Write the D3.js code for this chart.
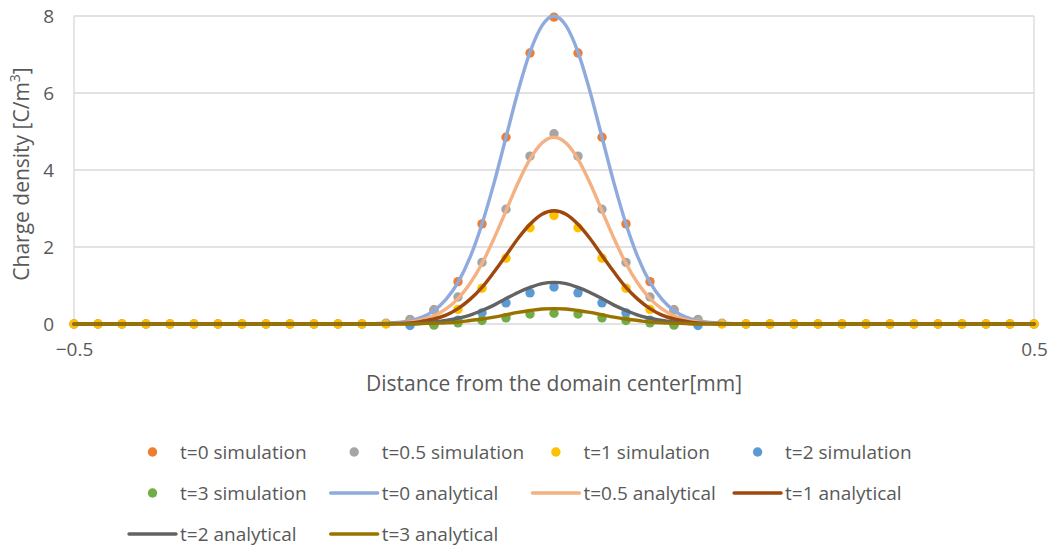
<!DOCTYPE html>
<html><head><meta charset="utf-8">
<script src="https://cdn.jsdelivr.net/npm/d3@7"></script>
<style>
body{margin:0;background:#fff}
text{font-family:"Open Sans",sans-serif;fill:#595959}
</style>
</head><body>
<svg id="chart" width="1050" height="547"></svg>
<script>
// ---------- data ----------
const simX = [-0.5,-0.475,-0.45,-0.425,-0.4,-0.375,-0.35,-0.325,-0.3,-0.275,-0.25,-0.225,-0.2,-0.175,-0.15,-0.125,-0.1,-0.075,-0.05,-0.025,0,
  0.025,0.05,0.075,0.1,0.125,0.15,0.175,0.2,0.225,0.25,0.275,0.3,0.325,0.35,0.375,0.4,0.425,0.45,0.475,0.5];
const simT0  = [0,0,0,0,0,0,0,0,0,0,0,0,0,0.01,0.09,0.37,1.10,2.60,4.85,7.04,7.97,7.04,4.85,2.60,1.10,0.37,0.09,0.01,0,0,0,0,0,0,0,0,0,0,0,0,0];
const simT05 = [0,0,0,0,0,0,0,0,0,0,0,0,0,0.02,0.12,0.36,0.70,1.60,2.98,4.36,4.94,4.36,2.98,1.60,0.70,0.36,0.12,0.02,0,0,0,0,0,0,0,0,0,0,0,0,0];
const simT1  = [0,0,0,0,0,0,0,0,0,0,0,0,0,0.0,0.03,0.12,0.38,0.93,1.71,2.50,2.82,2.50,1.71,0.93,0.38,0.12,0.03,0.0,0,0,0,0,0,0,0,0,0,0,0,0,0];
const simT2  = [null,null,null,null,null,null,null,null,null,null,null,null,null,null,-0.04,0.0,0.10,0.29,0.55,0.81,0.96,0.81,0.55,0.29,0.10,0.0,-0.04,null,null,null,null,null,null,null,null,null,null,null,null,null,null];
const simT3  = [null,null,null,null,null,null,null,null,null,null,null,null,null,null,null,-0.03,0.03,0.09,0.16,0.26,0.28,0.26,0.16,0.09,0.03,-0.03,null,null,null,null,null,null,null,null,null,null,null,null,null,null,null];

const anaX = [-0.5,-0.3,-0.2,-0.1875,-0.175,-0.1625,-0.15,-0.1375,-0.125,-0.1125,-0.1,-0.0875,-0.075,-0.0625,-0.05,-0.0375,-0.025,-0.0125,0,
  0.0125,0.025,0.0375,0.05,0.0625,0.075,0.0875,0.1,0.1125,0.125,0.1375,0.15,0.1625,0.175,0.1875,0.2,0.3,0.5];
const anaT0  = [0,0,0,0.01,0.02,0.04,0.09,0.18,0.35,0.64,1.08,1.73,2.60,3.66,4.85,6.04,7.06,7.75,8.00,7.75,7.06,6.04,4.85,3.66,2.60,1.73,1.08,0.64,0.35,0.18,0.09,0.04,0.02,0.01,0,0,0];
const anaT05 = [0,0,0,0,0.01,0.02,0.05,0.11,0.21,0.39,0.66,1.05,1.57,2.22,2.94,3.66,4.28,4.70,4.85,4.70,4.28,3.66,2.94,2.22,1.57,1.05,0.66,0.39,0.21,0.11,0.05,0.02,0.01,0,0,0,0];
const anaT1  = [0,0,0,0,0.01,0.015,0.03,0.07,0.13,0.23,0.40,0.64,0.95,1.35,1.78,2.22,2.59,2.85,2.94,2.85,2.59,2.22,1.78,1.35,0.95,0.64,0.40,0.23,0.13,0.07,0.03,0.015,0.01,0,0,0,0];
const anaT2  = [0,0,0,0,0,0.01,0.01,0.02,0.05,0.09,0.15,0.23,0.35,0.49,0.66,0.82,0.95,1.05,1.08,1.05,0.95,0.82,0.66,0.49,0.35,0.23,0.15,0.09,0.05,0.02,0.01,0.01,0,0,0,0,0];
const anaT3  = [0,0,0,0,0,0,0,0.01,0.02,0.03,0.05,0.09,0.13,0.18,0.24,0.30,0.35,0.39,0.40,0.39,0.35,0.30,0.24,0.18,0.13,0.09,0.05,0.03,0.02,0.01,0,0,0,0,0,0,0];

const yTicks = [0,2,4,6,8];
const xTicks = [-0.5,0.5];

const simSeries = [
  {name:"t=0 simulation",   vals:simT0,  color:"#ED7D31"},
  {name:"t=0.5 simulation", vals:simT05, color:"#A5A5A5"},
  {name:"t=1 simulation",   vals:simT1,  color:"#FFC000"},
  {name:"t=2 simulation",   vals:simT2,  color:"#5B9BD5"},
  {name:"t=3 simulation",   vals:simT3,  color:"#70AD47"}
];
const anaSeries = [
  {name:"t=0 analytical",   vals:anaT0,  color:"#8FAADC"},
  {name:"t=0.5 analytical", vals:anaT05, color:"#F4B183"},
  {name:"t=1 analytical",   vals:anaT1,  color:"#9E480E"},
  {name:"t=2 analytical",   vals:anaT2,  color:"#636363"},
  {name:"t=3 analytical",   vals:anaT3,  color:"#997300"}
];

// ---------- layout ----------
const svg = d3.select("#chart");
const x = d3.scaleLinear().domain([-0.5,0.5]).range([74,1034]);
const y = d3.scaleLinear().domain([0,8]).range([324,16]);

// gridlines
svg.append("g").selectAll("line").data(yTicks).join("line")
  .attr("x1",x(-0.5)).attr("x2",x(0.5))
  .attr("y1",d=>y(d)).attr("y2",d=>y(d))
  .attr("stroke","#D9D9D9").attr("stroke-width",1.3);
svg.append("g").selectAll("line").data(xTicks).join("line")
  .attr("x1",d=>x(d)).attr("x2",d=>x(d))
  .attr("y1",y(0)).attr("y2",y(8))
  .attr("stroke","#D9D9D9").attr("stroke-width",1.3);

// axes labels via d3 axes
const yAxis = svg.append("g").attr("transform",`translate(${x(-0.5)},0)`)
  .call(d3.axisLeft(y).tickValues(yTicks).tickSize(0).tickPadding(20).tickFormat(d3.format("d")));
yAxis.select(".domain").remove();
yAxis.selectAll("text").style("font-size","19px").attr("fill","#595959").attr("dy","0.35em");

const xAxis = svg.append("g").attr("transform",`translate(0,${y(0)})`)
  .call(d3.axisBottom(x).tickValues(xTicks).tickSize(0).tickPadding(19).tickFormat(d3.format(".1f")));
xAxis.select(".domain").remove();
xAxis.selectAll("text").style("font-size","19px").attr("fill","#595959");

// axis titles
svg.append("text").attr("x",554).attr("y",391).attr("text-anchor","middle")
  .style("font-size","21px").text("Distance from the domain center[mm]");
const yt = svg.append("text").attr("transform","translate(29,174) rotate(-90)")
  .attr("text-anchor","middle").style("font-size","21px");
yt.append("tspan").text("Charge density [C/m");
yt.append("tspan").attr("baseline-shift","super").style("font-size","14px").text("3");
yt.append("tspan").text("]");

// simulation dots
simSeries.forEach(s=>{
  const pts = simX.map((xv,i)=>({x:xv,y:s.vals[i]})).filter(p=>p.y!==null);
  svg.append("g").selectAll("circle").data(pts).join("circle")
    .attr("cx",d=>x(d.x)).attr("cy",d=>y(d.y)).attr("r",4.7)
    .attr("fill",s.color);
});

// analytical lines
const line = d3.line().x(d=>x(d.x)).y(d=>y(d.y)).curve(d3.curveMonotoneX);
anaSeries.forEach(s=>{
  const pts = anaX.map((xv,i)=>({x:xv,y:s.vals[i]}));
  svg.append("path").datum(pts).attr("d",line)
    .attr("fill","none").attr("stroke",s.color).attr("stroke-width",3.4)
    .attr("stroke-linejoin","round").attr("stroke-linecap","round");
});

// legend
const legendItems = simSeries.map(s=>({...s,type:"dot"})).concat(anaSeries.map(s=>({...s,type:"line"})));
const lg = svg.append("g");
legendItems.forEach((d,i)=>{
  const col = i%4, row = Math.floor(i/4);
  const x0 = 128 + col*201.7, yy = 452 + row*41;
  const g = lg.append("g");
  if(d.type==="dot"){
    g.append("circle").attr("cx",x0+24.5).attr("cy",yy).attr("r",4.7).attr("fill",d.color);
  } else {
    g.append("line").attr("x1",x0+1).attr("x2",x0+48).attr("y1",yy).attr("y2",yy)
      .attr("stroke",d.color).attr("stroke-width",3.4).attr("stroke-linecap","round");
  }
  g.append("text").attr("x",x0+52).attr("y",yy).attr("dy","0.35em")
    .style("font-size","19px").text(d.name);
});
</script>
</body></html>
